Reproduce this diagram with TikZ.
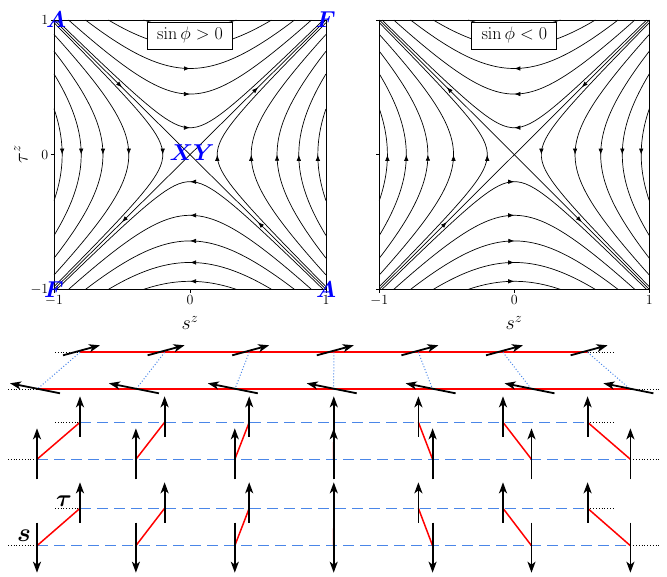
\RequirePackage{fix-cm}
\documentclass[tikz,border=0pt]{standalone}
\usepackage{bm}
\usetikzlibrary{arrows.meta,decorations.markings}
\definecolor{dblue}{RGB}{74,134,232}
\tikzset{
  sl/.style={line width=0.7pt,line join=round},
  midarrow/.style={postaction={decorate},decoration={markings,mark=at position 0.5 with {\arrow{Latex[length=6pt,width=4.5pt]}}}},
  spin/.style={line width=1.8pt,-{Stealth[length=11pt,width=8pt,inset=3pt]}},
  chain/.style={red,line width=1.8pt},
  bond/.style={red,line width=1.5pt},
  ext/.style={dotted,line width=0.8pt},
  link/.style={dblue,dotted,line width=1pt},
  rung/.style={dblue,dash pattern=on 11pt off 6pt,line width=1pt},
  ticklab/.style={font=\fontsize{14}{16}\selectfont,inner sep=1pt},
  axlab/.style={font=\fontsize{20}{24}\selectfont,inner sep=0pt},
  ptlab/.style={font=\fontsize{23}{27}\selectfont,text=blue,inner sep=0pt},
  signbox/.style={draw,fill=white,line width=0.8pt,minimum width=85pt,minimum height=27pt,inner sep=0pt,font=\fontsize{18}{21}\selectfont},
}
\newcommand\flowfield[1]{%
  \foreach \a in {0.2,0.45,0.64,0.8,0.94}{%
    \pgfmathsetmacro\mA{(#1)*sqrt(1-\a*\a)}%
    \pgfmathsetmacro\mB{(-1)*(#1)*sqrt(1-\a*\a)}%
    \draw[sl,midarrow] plot[domain=\mB:\mA,samples=60] (\x,{sqrt(\x*\x+\a*\a)});
    \draw[sl,midarrow] plot[domain=\mA:\mB,samples=60] (\x,{-sqrt(\x*\x+\a*\a)});
    \draw[sl,midarrow] plot[domain=\mA:\mB,samples=60] ({-sqrt(\x*\x+\a*\a)},\x);
    \draw[sl,midarrow] plot[domain=\mB:\mA,samples=60] ({sqrt(\x*\x+\a*\a)},\x);
  }%
}
\begin{document}
\begin{tikzpicture}[x=1pt,y=-1pt]
\useasboundingbox (0,0) rectangle (667,576);

% ---------------- left phase portrait ----------------
\begin{scope}[shift={(190pt,-154.7pt)},x=136pt,y=134.7pt]
  \coordinate (Lc) at (0,0);
  \coordinate (Ltl) at (-1,1); \coordinate (Ltr) at (1,1);
  \coordinate (Lbl) at (-1,-1); \coordinate (Lbr) at (1,-1);
  \flowfield{1}
  \draw[sl,midarrow] (Lc) -- (Ltr);
  \draw[sl,midarrow] (Lc) -- (Lbl);
  \draw[sl,midarrow] (Ltl) -- (Lc);
  \draw[sl,midarrow] (Lbr) -- (Lc);
  \draw[line width=0.8pt] (Lbl) rectangle (Ltr);
  \foreach \t in {-1,0,1}{
    \draw[line width=0.8pt] (\t,-1) -- ++(0pt,-3.5pt);
    \draw[line width=0.8pt] (-1,\t) -- ++(-3.5pt,0pt);
  }
  \node[ticklab,anchor=north] (Lx1) at ([yshift=-4.5pt]Lbl) {$-1$};
  \node[ticklab,anchor=north] (Lx2) at ([yshift=-4.5pt]0,-1) {$0$};
  \node[ticklab,anchor=north] (Lx3) at ([yshift=-4.5pt]Lbr) {$1$};
  \node[ticklab,anchor=east] (Ly1) at ([xshift=-4.5pt]Lbl) {$-1$};
  \node[ticklab,anchor=east] (Ly2) at ([xshift=-4.5pt]-1,0) {$0$};
  \node[ticklab,anchor=east] (Ly3) at ([xshift=-4.5pt]Ltl) {$1$};
  \node[signbox] (Lsign) at (0,0.885) {$\sin\phi>0$};
  \node[ptlab] (LA1) at ([xshift=2pt]Ltl) {$\bm{A}$};
  \node[ptlab] (LF1) at (Ltr) {$\bm{F}$};
  \node[ptlab] (LF2) at (Lbl) {$\bm{F}$};
  \node[ptlab] (LA2) at (Lbr) {$\bm{A}$};
  \node[ptlab] (LXY) at ([xshift=2pt,yshift=2pt]Lc) {$\bm{XY}$};
\end{scope}
\node[axlab] (Lsz) at (190,323) {$s^z$};
\node[axlab,rotate=90] (Ltz) at (21,154) {$\tau^z$};

% ---------------- right phase portrait ----------------
\begin{scope}[shift={(514.3pt,-154.7pt)},x=135pt,y=134.7pt]
  \coordinate (Rc) at (0,0);
  \coordinate (Rtl) at (-1,1); \coordinate (Rtr) at (1,1);
  \coordinate (Rbl) at (-1,-1); \coordinate (Rbr) at (1,-1);
  \flowfield{-1}
  \draw[sl,midarrow] (Rtr) -- (Rc);
  \draw[sl,midarrow] (Rbl) -- (Rc);
  \draw[sl,midarrow] (Rc) -- (Rtl);
  \draw[sl,midarrow] (Rc) -- (Rbr);
  \draw[line width=0.8pt] (Rbl) rectangle (Rtr);
  \foreach \t in {-1,0,1}{
    \draw[line width=0.8pt] (\t,-1) -- ++(0pt,-3.5pt);
    \draw[line width=0.8pt] (-1,\t) -- ++(-3.5pt,0pt);
  }
  \node[ticklab,anchor=north] (Rx1) at ([yshift=-4.5pt]Rbl) {$-1$};
  \node[ticklab,anchor=north] (Rx2) at ([yshift=-4.5pt]0,-1) {$0$};
  \node[ticklab,anchor=north] (Rx3) at ([yshift=-4.5pt]Rbr) {$1$};
  \node[signbox] (Rsign) at (0,0.885) {$\sin\phi<0$};
\end{scope}
\node[axlab] (Rsz) at (514,323) {$s^z$};

% ---------------- spin chains: site coordinates ----------------
\foreach \k in {0,...,6}{
  \pgfmathsetmacro\xl{37+98.9*\k}
  \pgfmathsetmacro\xu{80+84.6*\k}
  \coordinate (u1\k) at (\xu,352.3);
  \coordinate (l1\k) at (\xl,389.3);
  \coordinate (u2\k) at (\xu,422.3);
  \coordinate (l2\k) at (\xl,459.3);
  \coordinate (u3\k) at (\xu,508.3);
  \coordinate (l3\k) at (\xl,545.7);
}
\foreach \r/\yu/\yl in {1/352.3/389.3,2/422.3/459.3,3/508.3/545.7}{
  \coordinate (u\r L) at (55,\yu);
  \coordinate (u\r R) at (613,\yu);
  \coordinate (l\r L) at (8,\yl);
  \coordinate (l\r R) at (660,\yl);
}

% row 1: in-plane canted chains
\draw[ext] (u1L) -- (u10);
\draw[ext] (u16) -- (u1R);
\draw[ext] (l1L) -- (l10);
\draw[ext] (l16) -- (l1R);
\draw[chain] (u10) -- (u16);
\draw[chain] (l10) -- (l16);
\foreach \k in {0,...,6}{
  \draw[link] (u1\k) -- (l1\k);
}
\foreach \k in {0,...,6}{
  \draw[spin] ([shift={(-17,3)}]u1\k) -- ([shift={(20,-7)}]u1\k);
  \draw[spin] ([shift={(23,4)}]l1\k) -- ([shift={(-27,-6)}]l1\k);
}

% rows 2 and 3: ladders
\foreach \r in {2,3}{
  \draw[ext] (u\r L) -- (u\r0);
  \draw[ext] (u\r6) -- (u\r R);
  \draw[ext] (l\r L) -- (l\r0);
  \draw[ext] (l\r6) -- (l\r R);
  \draw[rung] (u\r0) -- (u\r6);
  \draw[rung] (l\r0) -- (l\r6);
  \foreach \k in {0,...,6}{
    \draw[bond] (l\r\k) -- (u\r\k);
  }
}
\foreach \k in {0,...,6}{
  \draw[spin] ([shift={(0,20)}]l2\k) -- ([shift={(0,-31)}]l2\k);
  \draw[spin] ([shift={(0,14.4)}]u2\k) -- ([shift={(0,-26)}]u2\k);
  \draw[spin] ([shift={(0,-23)}]l3\k) -- ([shift={(0,27)}]l3\k);
  \draw[spin] ([shift={(0,14.4)}]u3\k) -- ([shift={(0,-26)}]u3\k);
}
\node[font=\fontsize{24}{28}\selectfont,inner sep=0pt] (taulab) at (64,501) {$\bm{\tau}$};
\node[font=\fontsize{26}{30}\selectfont,inner sep=0pt] (slab) at (24,536) {$\bm{s}$};
\end{tikzpicture}
\end{document}
